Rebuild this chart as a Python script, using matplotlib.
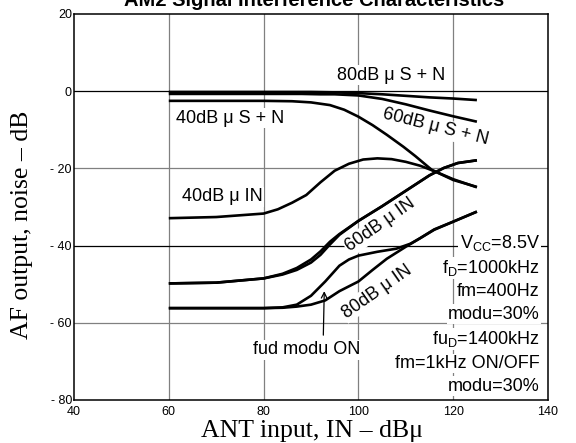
import matplotlib
matplotlib.use("Agg")
import matplotlib.pyplot as plt

plt.rcParams['font.family'] = 'Liberation Sans'
plt.rcParams['mathtext.fontset'] = 'custom'
plt.rcParams['mathtext.rm'] = 'Liberation Sans'

# S + N curves (signal + noise)
sn80_x = [60, 70, 80, 90, 95, 100, 105, 110, 115, 120, 125]
sn80_y = [-0.2, -0.2, -0.2, -0.2, -0.3, -0.5, -0.8, -1.2, -1.6, -1.9, -2.3]

sn60_x = [60, 70, 80, 88, 92, 95, 100, 105, 110, 115, 120, 125]
sn60_y = [-0.7, -0.7, -0.7, -0.7, -0.8, -0.8, -1.1, -2.0, -3.4, -5.0, -6.5, -7.9]

sn40_x = [60, 70, 80, 86, 90, 94, 97, 100, 103, 106, 109.5, 112, 115.5, 120, 125]
sn40_y = [-2.5, -2.5, -2.5, -2.6, -2.9, -3.6, -4.8, -6.6, -8.8, -11.3, -14.4, -16.8, -20.4, -23.0, -24.8]

# IN curves (noise)
in40_x = [60, 70, 80, 83, 86, 89, 92, 95, 98, 101, 104, 107, 110, 113, 116, 120, 125]
in40_y = [-32.9, -32.6, -31.7, -30.6, -28.9, -26.9, -23.6, -20.6, -18.8, -17.7, -17.4, -17.6, -18.3, -19.3, -20.7, -22.8, -24.9]

in60a_x = [60, 70, 80, 84, 87, 90, 92, 94, 96, 100, 105, 110, 115, 118, 121, 125]
in60a_y = [-49.8, -49.6, -48.5, -47.3, -45.8, -43.6, -41.5, -39.0, -37.0, -33.6, -29.8, -25.8, -21.8, -19.9, -18.6, -17.9]
in60b_x = [60, 70, 80, 84, 87, 90, 92, 94, 96, 100, 105, 110, 115, 118, 121, 125]
in60b_y = [-49.8, -49.6, -48.5, -47.5, -46.3, -44.4, -42.4, -39.7, -37.2, -33.6, -29.8, -25.8, -21.8, -19.9, -18.6, -17.9]

in80on_x = [60, 70, 80, 84, 87, 90, 93, 96, 98, 100, 104, 108, 111, 113, 116, 120, 125]
in80on_y = [-56.2, -56.2, -56.2, -56.0, -55.3, -53.0, -49.3, -45.2, -43.6, -42.6, -41.6, -40.8, -39.5, -38.1, -35.8, -33.8, -31.2]
in80off_x = [60, 70, 80, 84, 87, 90, 93, 96, 100, 103, 106, 110, 113, 116, 120, 125]
in80off_y = [-56.2, -56.2, -56.2, -56.1, -55.8, -55.3, -54.2, -51.8, -49.3, -46.3, -43.4, -40.3, -38.1, -35.9, -33.8, -31.2]

x_ticks = [40, 60, 80, 100, 120, 140]
x_labels = ['40', '60', '80', '100', '120', '140']
y_ticks = [-80, -60, -40, -20, 0, 20]
y_labels = ['- 80', '- 60', '- 40', '- 20', '0', '20']

cond_lines = [r'$\mathregular{V_{CC}}$=8.5V', r'$\mathregular{f_D}$=1000kHz', 'fm=400Hz', 'modu=30%',
              r'$\mathregular{fu_D}$=1400kHz', 'fm=1kHz ON/OFF', 'modu=30%']
cond_y = [-40.6, -47.1, -53.1, -59.0, -65.5, -71.7, -77.6]

fig = plt.figure(figsize=(5.76, 4.43), dpi=100)
ax = fig.add_axes([74 / 576, 1 - 400 / 443, 474 / 576, 386 / 443])
ax.set_xlim(40, 140)
ax.set_ylim(-80, 20)

# grid
for gx in [60, 80, 100, 120]:
    ax.axvline(gx, color='#808080', lw=0.9, zorder=1)
for gy in [-60, -20]:
    ax.axhline(gy, color='#808080', lw=0.9, zorder=1)
for gy in [0, -40]:
    ax.axhline(gy, color='black', lw=0.9, zorder=1)

lw = 1.9
for xs, ys in [(sn80_x, sn80_y), (sn60_x, sn60_y), (sn40_x, sn40_y), (in40_x, in40_y),
               (in60a_x, in60a_y), (in60b_x, in60b_y), (in80on_x, in80on_y), (in80off_x, in80off_y)]:
    ax.plot(xs, ys, color='black', lw=lw, zorder=4, solid_capstyle='butt')

box = dict(facecolor='white', edgecolor='none', pad=1)
fs = 13
ax.text(106.9, 4.1, '80dB μ S + N', fontsize=fs, ha='center', va='center', bbox=box, zorder=3)
ax.text(116.2, -9.3, '60dB μ S + N', fontsize=fs, ha='center', va='center', rotation=-14,
        rotation_mode='anchor', bbox=box, zorder=3)
ax.text(72.9, -7.0, '40dB μ S + N', fontsize=fs, ha='center', va='center', bbox=box, zorder=3)
ax.text(71.2, -27.4, '40dB μ IN', fontsize=fs, ha='center', va='center', bbox=box, zorder=3)
ax.text(104.7, -34.7, '60dB μ IN', fontsize=fs, ha='center', va='center', rotation=35,
        rotation_mode='anchor', bbox=box, zorder=3)
ax.text(103.9, -51.9, '80dB μ IN', fontsize=fs, ha='center', va='center', rotation=35,
        rotation_mode='anchor', bbox=box, zorder=3)
ax.text(89.0, -67.0, 'fud modu ON', fontsize=fs, ha='center', va='center', bbox=box, zorder=3)
ax.annotate('', xy=(92.8, -51.8), xytext=(92.6, -63.2),
            arrowprops=dict(arrowstyle='->', lw=0.9, color='black', shrinkA=0, shrinkB=0,
                            mutation_scale=10), zorder=5)

for txt, ty in zip(cond_lines, cond_y):
    ax.text(138.3, ty, txt, fontsize=fs, ha='right', va='baseline', bbox=box, zorder=3)

ax.set_xticks(x_ticks)
ax.set_xticklabels(x_labels)
ax.set_yticks(y_ticks)
ax.set_yticklabels(y_labels)
ax.tick_params(length=0, labelsize=9)
ax.tick_params(axis='x', pad=4)
ax.tick_params(axis='y', pad=1.5)
for s in ax.spines.values():
    s.set_linewidth(1.1)
    s.set_zorder(2.5)

fig.text(314 / 576, 1 - 6 / 443, 'AM2 Signal Interference Characteristics', fontsize=14.5,
         fontweight='bold', ha='center', va='baseline')
fig.text(312 / 576, 1 - 437 / 443, 'ANT input, IN – dBμ', family='Liberation Serif', fontsize=18.5,
         ha='center', va='baseline')
fig.text(22 / 576, 1 - 225 / 443, 'AF output, noise – dB', family='Liberation Serif', fontsize=18.5,
         ha='center', va='center', rotation=90)

fig.savefig('out.png', dpi=100)
